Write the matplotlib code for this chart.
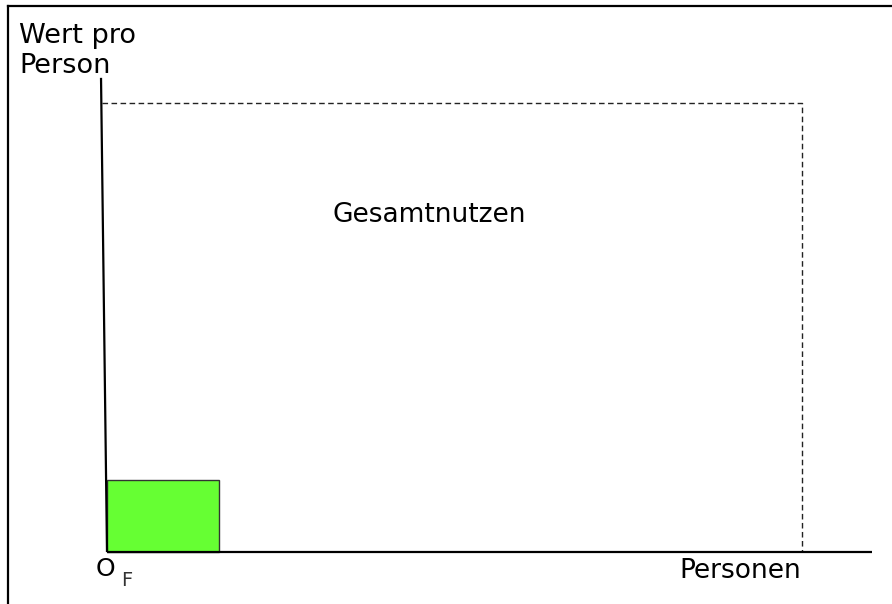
import matplotlib
matplotlib.use("Agg")
import matplotlib.pyplot as plt
from matplotlib.patches import Rectangle
from matplotlib.lines import Line2D

plt.rcParams['font.family'] = ['DejaVu Sans']

# Conceptual data (units: total persons = 1, max value per person = 1)
total_persons = 1.0
value_per_person = 1.0
firm_persons = [0.161]      # width of green block
firm_value = [0.16]         # height of green block
axis_x_end = 1.101
axis_y_top = 1.056
axis_y_top_offset = -0.0086

labels = {
    "y": ["Wert pro", "Person"],
    "x": "Personen",
    "area": "Gesamtnutzen",
    "origin": "O",
    "origin_sub": "F",
}

W, H = 892, 604
fig = plt.figure(figsize=(W / 100, H / 100), dpi=100)
ax = fig.add_axes([0, 0, 1, 1])
# origin at pixel (107, 552) from top-left; 695 px per x unit, 449 px per y unit
sx, sy = 695.0, 449.0
ox, oy = 107.0, 552.0
ax.set_xlim(-ox / sx, (W - ox) / sx)
ax.set_ylim(-(H - oy) / sy, oy / sy)
ax.axis('off')

def px(x):
    return (x - ox) / sx

def py(y):
    return (oy - y) / sy

# Frame lines (top and left)
fig.add_artist(Line2D([8 / W, 1], [1 - 6 / H, 1 - 6 / H], color='black', lw=1.6, transform=fig.transFigure))
fig.add_artist(Line2D([8 / W, 8 / W], [0, 1 - 6 / H], color='black', lw=1.6, transform=fig.transFigure))

# Green block
for w, h in zip(firm_persons, firm_value):
    ax.add_patch(Rectangle((0, 0), w, h, facecolor='#66FF33', edgecolor='#333333', lw=1.0, zorder=2))

# Dashed total area
ax.plot([axis_y_top_offset * 0.8, total_persons, total_persons], [value_per_person, value_per_person, 0],
        color='#222222', lw=1.0, linestyle=(0, (4, 2.5)), zorder=1)

# Axes
ax.plot([0, axis_x_end], [0, 0], color='black', lw=1.6, zorder=3, solid_capstyle='butt')
ax.plot([0, axis_y_top_offset], [0, axis_y_top], color='black', lw=1.6, zorder=3, solid_capstyle='butt')

# Texts
ax.text(px(19), py(43), labels["y"][0], fontsize=19.5, va='baseline', ha='left')
ax.text(px(19), py(73), labels["y"][1], fontsize=19.5, va='baseline', ha='left')
ax.text(px(332), py(222), labels["area"], fontsize=19, va='baseline', ha='left')
ax.text(px(679), py(578), labels["x"], fontsize=19, va='baseline', ha='left')
ax.text(px(96), py(576), labels["origin"], fontsize=18, va='baseline', ha='left')
ax.text(px(121), py(586), labels["origin_sub"], fontsize=14, va='baseline', ha='left', color='#333333')

fig.savefig('out.png', dpi=100)
